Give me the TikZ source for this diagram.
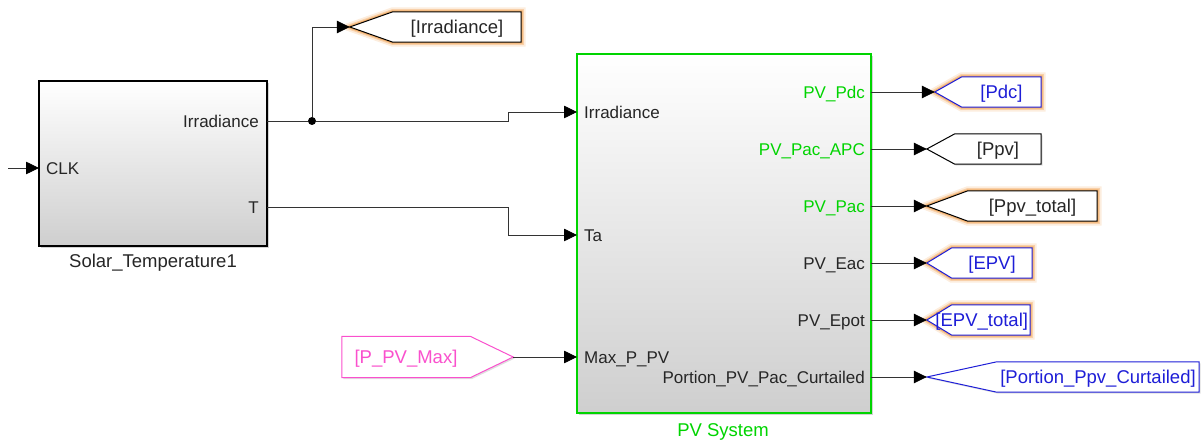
\documentclass[tikz,border=0pt]{standalone}
\usepackage{fontspec}
\setmainfont{Liberation Sans}
\usetikzlibrary{arrows.meta,shadows,backgrounds}

\definecolor{pvgreen}{RGB}{0,212,0}
\definecolor{tagblue}{RGB}{30,30,215}
\definecolor{tagpink}{RGB}{250,80,205}
\definecolor{glowc}{RGB}{240,155,70}

\begin{document}
\begin{tikzpicture}[x=1pt,y=-1pt,
  sig/.style={draw=black!80, line width=0.8pt, -{Triangle[length=13pt,width=12.5pt,color=black]}},
  wire/.style={draw=black!80, line width=0.8pt},
  sysblock/.style={line width=2.6pt, top color=white, middle color=black!3, bottom color=black!19,
    drop shadow={shadow xshift=2pt, shadow yshift=-2pt, opacity=.35}},
  portlbl/.style={inner sep=0pt, text height=12.2pt, text depth=0pt, font=\fontsize{17}{20}\selectfont, text=black!85},
  tagtxt/.style={inner sep=0pt, minimum height=30pt, text height=13.3pt, text depth=0pt, font=\fontsize{18.5}{22}\selectfont},
  tagline/.style={line width=1pt, fill=white},
  glow/.style={preaction={draw=glowc, line width=9pt, opacity=.18}, preaction={draw=glowc, line width=5.5pt, opacity=.35},
    preaction={draw=glowc, line width=3pt, opacity=.6}},
  plain/.style={drop shadow={shadow xshift=1.5pt, shadow yshift=-1.5pt, opacity=.25}},
  dot/.style={circle, fill=black, inner sep=0pt, minimum size=8pt}]
\useasboundingbox (0,0) rectangle (1201,443);

% the two subsystems
\node[sysblock, draw=black, minimum width=228pt, minimum height=165pt] (sol) at (153,163.5) {};
\node[sysblock, draw=pvgreen, minimum width=294pt, minimum height=359pt] (pv) at (724,233.5) {};
\node[tagtxt, text=black!85] (sol-cap) at (153,261) {Solar\_Temperature1};
\node[tagtxt, text=pvgreen] (pv-cap) at (723,430) {PV System};

% port points
\coordinate (clk) at (8,168);
\coordinate (sol-clk) at (39,168);
\coordinate (sol-irr) at (267,121);
\coordinate (sol-t) at (267,207);
\coordinate (pv-irr) at (577,112);
\coordinate (pv-ta) at (577,235);
\coordinate (pv-max) at (577,357);
\coordinate (irr-step) at (508,121);
\coordinate (t-step) at (508,207);
\node[dot] (jn) at (312,121) {};

% port labels
\node[portlbl, anchor=west] (l-clk) at (46,168) {CLK};
\node[portlbl, anchor=east] (l-sirr) at (259,121) {Irradiance};
\node[portlbl, anchor=east] (l-st) at (259,207) {T};
\node[portlbl, anchor=west] (l-pirr) at (584,112) {Irradiance};
\node[portlbl, anchor=west] (l-pta) at (584,235) {Ta};
\node[portlbl, anchor=west] (l-pmax) at (584,357) {Max\_P\_PV};
\foreach \y/\t/\c [count=\i] in {92/PV\_Pdc/pvgreen, 149/PV\_Pac\_APC/pvgreen, 206/PV\_Pac/pvgreen,
    263/PV\_Eac/black!85, 320/PV\_Epot/black!85, 377/Portion\_PV\_Pac\_Curtailed/black!85}
  {\coordinate (pv-o\i) at (871,\y);
   \node[portlbl, anchor=east, text=\c] (l-o\i) at (865,\y) {\t};}

% goto / from tags
\node[tagtxt, text=black!85, minimum width=128pt] (irrt) at (457,27) {[Irradiance]};
\node[tagtxt, text=tagblue, minimum width=79pt] (pdct) at (1001.5,92) {[Pdc]};
\node[tagtxt, text=black!85, minimum width=86pt] (ppvt) at (998,149) {[Ppv]};
\node[tagtxt, text=black!85, minimum width=129pt] (ppvtot) at (1032.5,206) {[Ppv\_total]};
\node[tagtxt, text=tagblue, minimum width=80pt] (epvt) at (992,263) {[EPV]};
\node[tagtxt, text=tagblue, minimum width=78pt] (epvtot) at (991,320) {\makebox[78pt][r]{[EPV\_total]\kern2pt}};
\node[tagtxt, text=tagblue, minimum width=202pt] (portt) at (1098,377) {[Portion\_Ppv\_Curtailed]};
\node[tagtxt, text=tagpink, minimum width=128pt, minimum height=41pt] (pmaxt) at (406,357) {[P\_PV\_Max]};

\begin{pgfonlayer}{background}
\foreach \n/\d/\c/\g in {irrt/43/black/glow, pdct/27/tagblue/glow, ppvt/28/black/plain, ppvtot/41/black/glow,
    epvt/25/tagblue/glow, epvtot/25/tagblue/glow, portt/70/tagblue/plain}
  \draw[tagline, draw=\c, \g] (\n.north west) -- ([xshift=-\d]\n.west) coordinate (\n-tip)
    -- (\n.south west) -- (\n.south east) -- (\n.north east) -- cycle;
\draw[tagline, draw=tagpink, plain] (pmaxt.north west) -- (pmaxt.north east) -- ([xshift=43]pmaxt.east) coordinate (pmaxt-tip)
  -- (pmaxt.south east) -- (pmaxt.south west) -- cycle;
\end{pgfonlayer}

% signal lines
\draw[sig] (clk) -- (sol-clk);
\draw[wire] (sol-irr) -- (jn);
\draw[sig] (jn) |- (irrt-tip);
\draw[sig] (jn) -- (irr-step) |- (pv-irr);
\draw[sig] (sol-t) -- (t-step) |- (pv-ta);
\draw[sig] (pmaxt-tip) -- (pv-max);
\foreach \i/\n in {1/pdct, 2/ppvt, 3/ppvtot, 4/epvt, 5/epvtot, 6/portt}
  \draw[sig] (pv-o\i) -- (\n-tip);
\end{tikzpicture}
\end{document}
